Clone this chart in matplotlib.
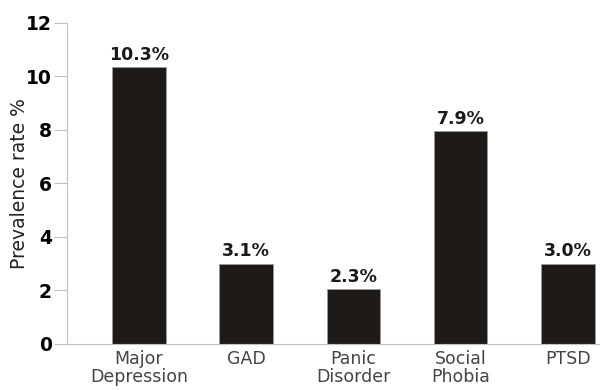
import matplotlib.pyplot as plt

# categories and values
categories = ["Major\nDepression", "GAD", "Panic\nDisorder", "Social\nPhobia", "PTSD"]
heights = [10.35, 3.0, 2.05, 7.95, 3.0]
bar_labels = ["10.3%", "3.1%", "2.3%", "7.9%", "3.0%"]
yticks = [0, 2, 4, 6, 8, 10, 12]

plt.rcParams['font.family'] = ['DejaVu Sans']

fig = plt.figure(figsize=(6, 3.9), dpi=100)
ax = fig.add_axes([0.1117, 0.118, 0.8883, 0.824])

x = list(range(len(categories)))
bars = ax.bar(x, heights, width=0.5, color="#1e1a18", edgecolor="#9a9a9a", linewidth=0.6)

for b, lab in zip(bars, bar_labels):
    ax.text(b.get_x() + b.get_width() / 2, b.get_height() + 0.12, lab,
            ha="center", va="bottom", fontsize=12.5, fontweight="bold", color="#1a1a1a")

ax.set_xlim(-0.67, 4.3)
ax.set_ylim(0, 12)
ax.set_yticks(yticks)
ax.set_yticklabels([str(t) for t in yticks], fontsize=13.5, fontweight="bold")
ax.set_xticks(x)
ax.set_xticklabels(categories, fontsize=12.5, color="#444444", linespacing=1.05)

ax.spines["top"].set_visible(False)
ax.spines["right"].set_visible(False)
ax.spines["left"].set_color("#c0c0c0")
ax.spines["bottom"].set_color("#c0c0c0")
ax.tick_params(axis="y", length=9.5, color="#c0c0c0", pad=1.5)
ax.tick_params(axis="x", length=0, pad=4)

ax.set_ylabel("Prevalence rate %", fontsize=13.5, color="#222222", labelpad=-2)

fig.savefig("out.png", dpi=100)
